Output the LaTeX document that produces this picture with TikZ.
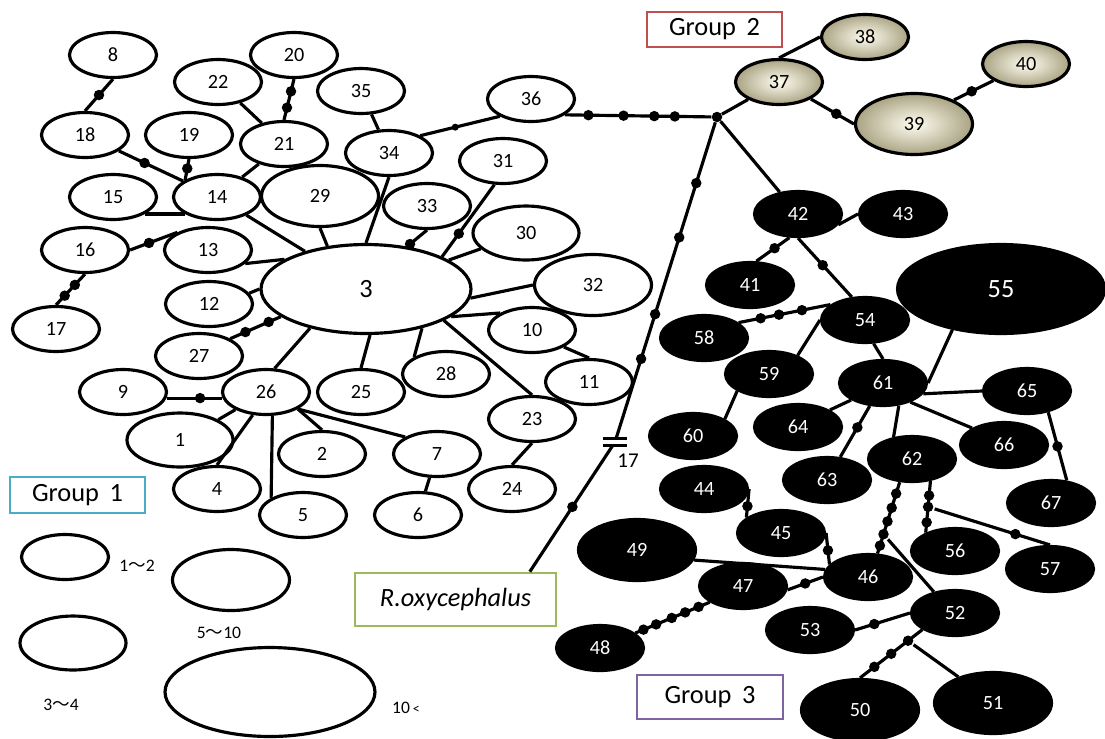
\documentclass[tikz,border=0pt]{standalone}
\usepackage{fontspec}
\setmainfont{Carlito}
\newfontfamily\cjk{Noto Sans CJK JP}
\usetikzlibrary{shapes.geometric,calc}

\definecolor{grpone}{RGB}{75,172,198}
\definecolor{grptwo}{RGB}{192,80,77}
\definecolor{grpthree}{RGB}{128,100,162}
\definecolor{outgrp}{RGB}{155,187,89}
\definecolor{creamin}{RGB}{255,253,240}
\definecolor{creamout}{RGB}{170,164,132}

\begin{document}
\begin{tikzpicture}[x=0.02cm,y=-0.02cm,font=\fontsize{11.5}{12}\selectfont,
 hap/.style={ellipse,draw,line width=1.8pt,inner sep=0pt,minimum width=1.74cm,minimum height=0.9cm},
 hapm/.style={hap,minimum width=2.12cm,minimum height=1.08cm},
 hapl/.style={hap,minimum width=2.34cm,minimum height=1.22cm},
 hapxl/.style={hap,minimum width=4.2cm,minimum height=1.78cm,font=\fontsize{15}{16}\selectfont},
 g2/.style={draw=black,inner color=creamin,outer color=creamout},
 g3/.style={fill=black,text=white},
 link/.style={line width=1.8pt},
 dot/.style={circle,fill=black,inner sep=0pt,minimum size=0.21cm},
 sdot/.style={dot,minimum size=0.14cm},
 grpbox/.style={draw,line width=1.5pt,minimum width=2.7cm,minimum height=0.72cm,font=\fontsize{15}{16}\selectfont},
 key/.style={font=\fontsize{10}{11}\selectfont}]
\useasboundingbox (0,0) rectangle (1105,738);

% group 1
\node[hap] (n8) at (113,55) {8};
\node[hap] (n20) at (294,55) {20};
\node[hap] (n22) at (218,82) {22};
\node[hap] (n35) at (361,91) {35};
\node[hap] (n18) at (85,135) {18};
\node[hap] (n19) at (189,135) {19};
\node[hap] (n21) at (284,144) {21};
\node[hap] (n15) at (113,197) {15};
\node[hap] (n14) at (217,197) {14};
\node[hapl] (n29) at (320,196) {29};
\node[hap] (n34) at (389,153) {34};
\node[hap] (n36) at (531,99) {36};
\node[hap] (n31) at (503,161) {31};
\node[hap] (n33) at (427,206) {33};
\node[hapm] (n30) at (526,233) {30};
\node[hap] (n16) at (85,250) {16};
\node[hap] (n13) at (208,250) {13};
\node[hap] (n17) at (56,329) {17};
\node[hap] (n12) at (209,304) {12};
\node[hap] (n27) at (199,356) {27};
\node[hapxl] (n3) at (366,289) {3};
\node[hapl] (n32) at (593,285) {32};
\node[hap] (n10) at (532,330) {10};
\node[hap] (n11) at (589,382) {11};
\node[hap] (n28) at (446,374) {28};
\node[hap] (n25) at (361,392) {25};
\node[hap] (n26) at (266,392) {26};
\node[hap] (n9) at (123,392) {9};
\node[hapm] (n1) at (180,440) {1};
\node[hap] (n23) at (532,419) {23};
\node[hap] (n2) at (322,454) {2};
\node[hap] (n7) at (437,454) {7};
\node[hap] (n4) at (217,489) {4};
\node[hap] (n5) at (303,515) {5};
\node[hap] (n6) at (418,515) {6};
\node[hap] (n24) at (512,489) {24};

% group 2
\node[hap,g2] (n38) at (865,37) {38};
\node[hap,g2] (n37) at (779,82) {37};
\node[hap,g2] (n40) at (1026,64) {40};
\node[hapl,g2] (n39) at (914,124) {39};

% group 3
\node[hap,g3] (n42) at (798,214) {42};
\node[hap,g3] (n43) at (903,214) {43};
\node[hap,g3] (n41) at (750,285) {41};
\node[hapxl,g3,minimum width=4.14cm] (n55) at (1001,289) {55};
\node[hap,g3] (n54) at (865,320) {54};
\node[hap,g3] (n58) at (704,338) {58};
\node[hap,g3] (n59) at (769,374) {59};
\node[hap,g3] (n61) at (883,383) {61};
\node[hap,g3] (n65) at (1027,391) {65};
\node[hap,g3] (n60) at (693,436) {60};
\node[hap,g3] (n64) at (798,427) {64};
\node[hap,g3] (n66) at (1004,445) {66};
\node[hap,g3] (n62) at (912,459) {62};
\node[hap,g3] (n63) at (827,480) {63};
\node[hap,g3] (n67) at (1051,503) {67};
\node[hap,g3] (n44) at (704,489) {44};
\node[hap,g3] (n45) at (781,533) {45};
\node[hapl,g3] (n49) at (637,550) {49};
\node[hap,g3] (n46) at (868,577) {46};
\node[hap,g3] (n47) at (743,586) {47};
\node[hap,g3] (n56) at (955,551) {56};
\node[hap,g3] (n57) at (1050,569) {57};
\node[hap,g3] (n52) at (955,613) {52};
\node[hap,g3] (n53) at (810,630) {53};
\node[hap,g3] (n48) at (600,648) {48};
\node[hapl,g3] (n50) at (860,710) {50};
\node[hapl,g3] (n51) at (993,703) {51};

% labels and legend
\node[grpbox,draw=grpone] (g1) at (77.5,495) {Group\hspace{.4em}1};
\node[grpbox,draw=grptwo,minimum height=0.7cm] (g2) at (714.5,29.5) {Group\hspace{.4em}2};
\node[grpbox,draw=grpthree,minimum width=2.92cm,minimum height=0.88cm] (g3) at (710,697) {Group\hspace{.4em}3};
\node[grpbox,draw=outgrp,minimum width=4.02cm,minimum height=1.06cm,font=\fontsize{15}{16}\selectfont\itshape] (roxy) at (455.5,599.5) {R.oxycephalus};
\node[hap] (k12) at (65,557) {};
\node[hapm] (k34) at (73,643) {};
\node[hapl] (k510) at (231,580) {};
\node[hapxl] (k10) at (270,692) {};
\node[key] (t12) at (137,566) {1{\cjk ～}2};
\node[key] (t34) at (61,705) {3{\cjk ～}4};
\node[key] (t510) at (219,633) {5{\cjk ～}10};
\node[key] (t10) at (406,708) {10\,{\fontsize{8}{9}\selectfont<}};

% links, group 1
\draw[link] (n8.south) -- node[dot]{} (n18.north);
\draw[link] (n18) -- node[dot,pos=.4]{} (n14);
\draw[link] (n19.south) -- node[dot,pos=.45]{} (n14.north west);
\draw[link] (n15.south east) -- (n14.south west);
\draw[link] (n22) -- (n21);
\draw[link] (n20.south) -- node[dot,pos=.3]{} node[dot,pos=.7]{} (n21.north);
\draw[link] (n21) -- (n14);
\draw[link] (n14) -- (n3);
\draw[link] (n29.south) -- (n3.132);
\draw[link] (n35) -- (n34);
\draw[link] (n34.south) -- (n3.north);
\draw[link] (n33.south) -- node[dot,pos=.85]{} (n3.46);
\draw[link] (n31.250) -- node[dot,pos=.68]{} (n3.23);
\draw[link] (n30) -- (n3);
\draw[link] (n32.west) -- (n3.-5);
\draw[link] (n10.north west) -- (n3.-18);
\draw[link] (n10.south east) -- (n11.north);
\draw[link] (n23.north) -- (n3.-22);
\draw[link] (n23.south) -- (n24.north);
\draw[link] (n28.north west) -- (n3.-35);
\draw[link] (n25.north) -- (n3.-85);
\draw[link] (n26.70) -- (n3.-145);
\draw[link] (n26.south east) -- (n7.north west);
\draw[link] (n26.south east) -- (n2.north);
\draw[link] (n26.-75) -- (n5.north west);
\draw[link] (n7) -- (n6);
\draw[link] (n26.-120) -- (n4.north);
\draw[link] (n26.210) -- (n1.28);
\draw[link] (n9.-8) -- node[dot,pos=.6]{} (n26.188);
\draw[link] (n27.29) -- node[dot,pos=.3]{} node[dot,pos=.76]{} (n3.198);
\draw[link] (n12.15) -- (n3.west);
\draw[link] (n13.-20) -- (n3.160);
\draw[link] (n16.east) -- node[dot,pos=.4]{} (n13.150);
\draw[link] (n16.south) -- node[dot,pos=.35]{} node[dot,pos=.7]{} (n17.north);
\draw[link] (n34.29) -- node[sdot,pos=.44]{} (n36.209);

% outgroup branch and junction
\node[dot] (j) at (717,117) {};
\coordinate (brk) at (615,442);
\draw[link] (n36.-25) -- node[dot,pos=.16]{} node[dot,pos=.4]{} node[dot,pos=.61]{} node[dot,pos=.75]{} (j);
\draw[link] ($(roxy.north)!0.73!(roxy.north east)$) -- node[dot]{} (brk)
  -- node[dot,pos=.26]{} node[dot,pos=.4]{} node[dot,pos=.64]{} node[dot,pos=.81]{} (j);
\fill[white] ($(brk)+(-12,-3.5)$) rectangle ($(brk)+(12,3.5)$);
\draw[line width=1.4pt] ($(brk)+(-12,-3.5)$) -- ++(24,0) ($(brk)+(-12,3.5)$) -- ++(24,0);
\node[font=\fontsize{12}{13}\selectfont] (brklab) at (628,461) {17};

% links, groups 2 and 3
\draw[link] (j) -- (n37);
\draw[link] (j) -- (n42);
\draw[link] (n37.north) -- (n38.west);
\draw[link] (n37.south east) -- node[dot,pos=.59]{} (n39.west);
\draw[link] (n39.31) -- node[dot,pos=.45]{} (n40.207);
\draw[link] (n42.-15) -- (n43.west);
\draw[link] (n42.-110) -- node[dot,pos=.45]{} (n41.75);
\draw[link] (n42.south) -- node[dot,pos=.46]{} (n54.120);
\draw[link] (n58.24) -- node[dot,pos=.24]{} node[dot,pos=.44]{} node[dot,pos=.69]{} (n54.156);
\draw[link] (n54.west) -- (n59.33);
\draw[link] (n54.-70) -- (n61.north);
\draw[link] (n55.220) -- (n61.east);
\draw[link] (n59.south west) -- (n60.north east);
\draw[link] (n61.south west) -- (n64.north east);
\draw[link] (n61.-120) -- node[dot,pos=.42]{} (n63.60);
\draw[link] (n61.-55) -- (n62.130);
\draw[link] (n61.-15) -- (n65.west);
\draw[link] (n61.-35) -- (n66.152);
\draw[link] (n65.-45) -- node[dot]{} (n67.55);
\draw[link] (n62.-118) -- node[dot,pos=.16]{} node[dot,pos=.36]{} node[dot,pos=.55]{}
  node[dot,pos=.73] (k46) {} node[dot,pos=.89]{} (n46.68);
\draw[link] (k46) -- (n52.135);
\draw[link] (n62.-50) -- node[dot,pos=.28]{} node[dot,pos=.5] (k57) {} node[dot,pos=.8]{} (n56.148);
\draw[link] (k57) -- node[dot,pos=.7]{} (n57.north);
\draw[link] (n44.east) -- node[dot,pos=.6]{} (n45.156);
\draw[link] (n45.east) -- node[dot,pos=.55]{} (n46.162);
\draw[link] (n49.-10) -- (n46.170);
\draw[link] (n47.-5) -- node[dot]{} (n46.west);
\draw[link] (n47.206) -- node[dot,pos=.15]{} node[dot,pos=.33]{} node[dot,pos=.51]{} node[dot,pos=.72]{} node[dot,pos=.89]{} (n48.23);
\draw[link] (n53.east) -- node[dot,pos=.35]{} (n52.west);
\draw[link] (n52.207) -- node[dot,pos=.23] (k51) {} node[dot,pos=.5]{} node[dot,pos=.77]{} (n50.north);
\draw[link] (k51) -- (n51.143);
\end{tikzpicture}
\end{document}
